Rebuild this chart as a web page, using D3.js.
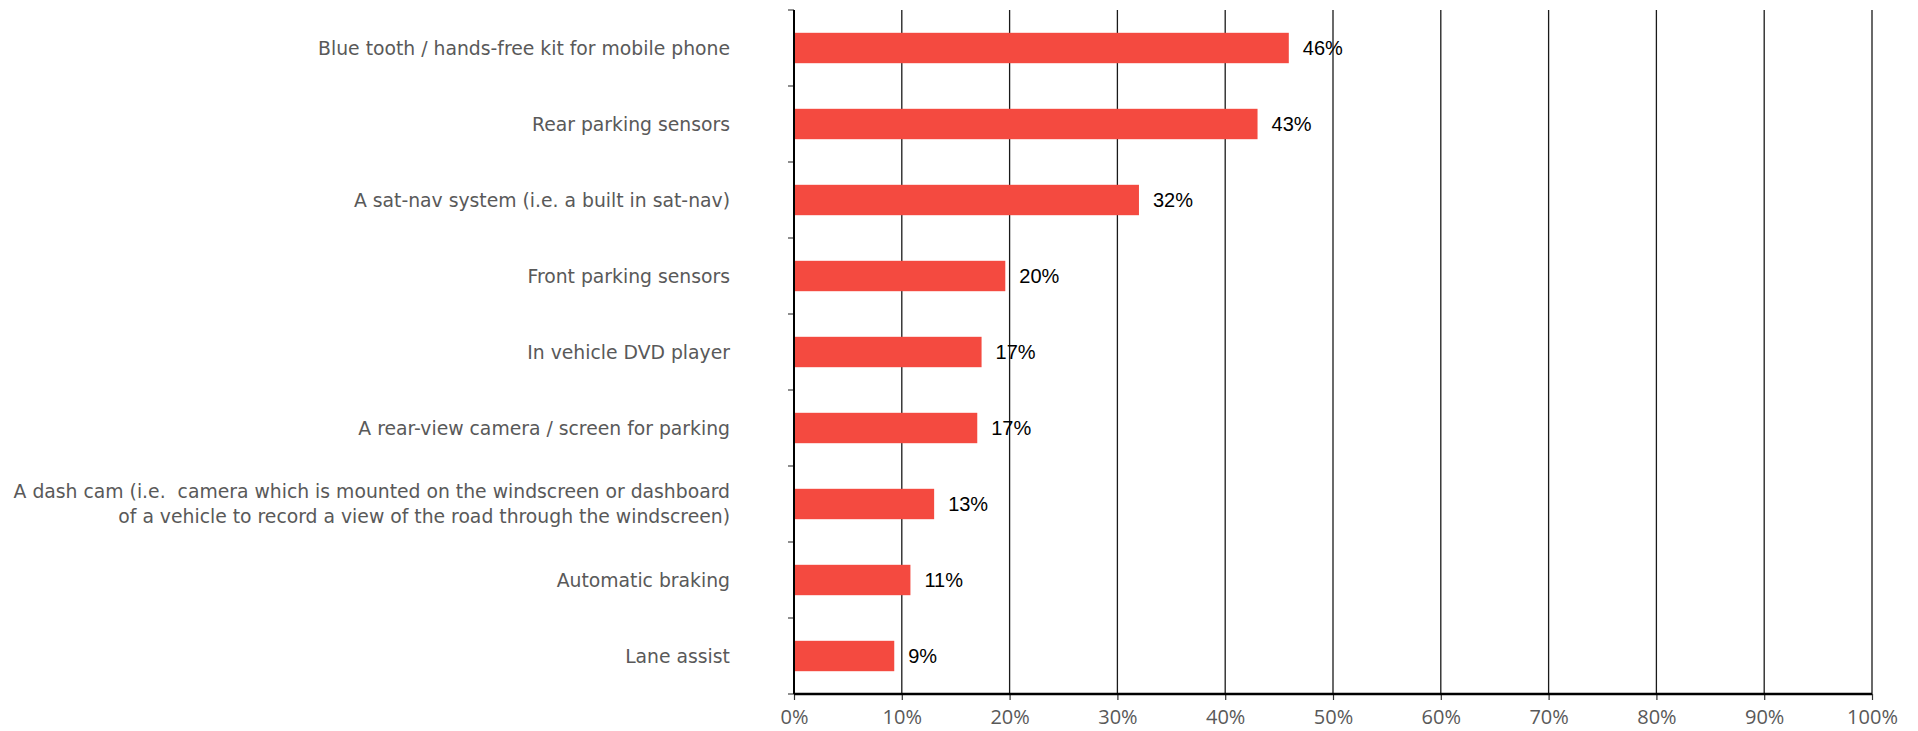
<!DOCTYPE html>
<html>
<head>
<meta charset="utf-8">
<script src="https://cdn.jsdelivr.net/npm/d3@7"></script>
<style>
  body { margin: 0; background: #fff; }
  svg { display: block; }
</style>
</head>
<body>
<svg id="chart" width="1918" height="731"></svg>
<script>
var categories = [
  "Blue tooth / hands-free kit for mobile phone",
  "Rear parking sensors",
  "A sat-nav system (i.e. a built in sat-nav)",
  "Front parking sensors",
  "In vehicle DVD player",
  "A rear-view camera / screen for parking",
  "A dash cam (i.e.  camera which is mounted on the windscreen or dashboard|of a vehicle to record a view of the road through the windscreen)",
  "Automatic braking",
  "Lane assist"
];
var values = [45.9, 43.0, 32.0, 19.6, 17.4, 17.0, 13.0, 10.8, 9.3];
var tickValues = [0, 10, 20, 30, 40, 50, 60, 70, 80, 90, 100];

var svg = d3.select("#chart");
var plotLeft = 794, plotRight = 1872, plotTop = 10, plotBottom = 694;

var x = d3.scaleLinear().domain([0, 100]).range([plotLeft, plotRight]);
var y = d3.scaleBand()
    .domain(categories)
    .range([plotTop, plotBottom])
    .paddingInner(0.6)
    .paddingOuter(0.3);

// vertical gridlines
svg.append("g").selectAll("line")
  .data(tickValues.slice(1))
  .enter().append("line")
    .attr("x1", function(d) { return x(d); })
    .attr("x2", function(d) { return x(d); })
    .attr("y1", plotTop)
    .attr("y2", plotBottom)
    .attr("stroke", "#1a1a1a")
    .attr("stroke-width", 1.3);

// bars
svg.append("g").selectAll("rect")
  .data(values)
  .enter().append("rect")
    .attr("x", x(0))
    .attr("y", function(d, i) { return y(categories[i]); })
    .attr("width", function(d) { return x(d) - x(0); })
    .attr("height", y.bandwidth())
    .attr("fill", "#f44a40");

// value labels
svg.append("g").selectAll("text")
  .data(values)
  .enter().append("text")
    .attr("x", function(d) { return x(d) + 14; })
    .attr("y", function(d, i) { return y(categories[i]) + y.bandwidth() / 2; })
    .attr("dy", "0.36em")
    .style("font-family", "'Liberation Sans Narrow', 'Arial Narrow', sans-serif")
    .style("font-size", "20px")
    .attr("fill", "#000")
    .text(function(d) { return Math.round(d) + "%"; });

// category labels
var cat = svg.append("g").selectAll("text")
  .data(categories)
  .enter().append("text")
    .attr("text-anchor", "end")
    .attr("x", plotLeft - 64)
    .attr("y", function(d) { return y(d) + y.bandwidth() / 2; })
    .style("font-family", "'DejaVu Sans', sans-serif")
    .style("font-size", "18.8px")
    .style("white-space", "pre")
    .attr("fill", "#595959");
cat.each(function(d) {
  var lines = d.split("|"), t = d3.select(this);
  lines.forEach(function(s, j) {
    t.append("tspan")
      .attr("x", plotLeft - 64)
      .attr("dy", j === 0 ? (0.35 - (lines.length - 1) * 0.65) + "em" : "1.3em")
      .text(s);
  });
});

// y axis ticks at band boundaries
var step = y.step();
svg.append("g").selectAll("line")
  .data(d3.range(categories.length + 1))
  .enter().append("line")
    .attr("x1", plotLeft - 6)
    .attr("x2", plotLeft)
    .attr("y1", function(i) { return plotTop + i * step; })
    .attr("y2", function(i) { return plotTop + i * step; })
    .attr("stroke", "#444")
    .attr("stroke-width", 1.2);

// x axis
var xAxis = svg.append("g")
    .attr("transform", "translate(0," + plotBottom + ")")
    .call(d3.axisBottom(x).tickValues(tickValues).tickSize(6)
      .tickFormat(function(d) { return d + "%"; }));
xAxis.select(".domain").remove();
xAxis.selectAll(".tick line").attr("stroke", "#333").attr("stroke-width", 1.2);
xAxis.selectAll(".tick text")
    .attr("y", 16)
    .attr("dy", "0.71em")
    .style("font-family", "'Open Sans', sans-serif")
    .style("font-size", "20px")
    .attr("fill", "#595959");

// axis lines
svg.append("line")
    .attr("x1", plotLeft).attr("x2", plotRight)
    .attr("y1", plotBottom).attr("y2", plotBottom)
    .attr("stroke", "#000").attr("stroke-width", 2.5);
svg.append("line")
    .attr("x1", plotLeft).attr("x2", plotLeft)
    .attr("y1", plotTop).attr("y2", plotBottom)
    .attr("stroke", "#000").attr("stroke-width", 2);
</script>
</body>
</html>
